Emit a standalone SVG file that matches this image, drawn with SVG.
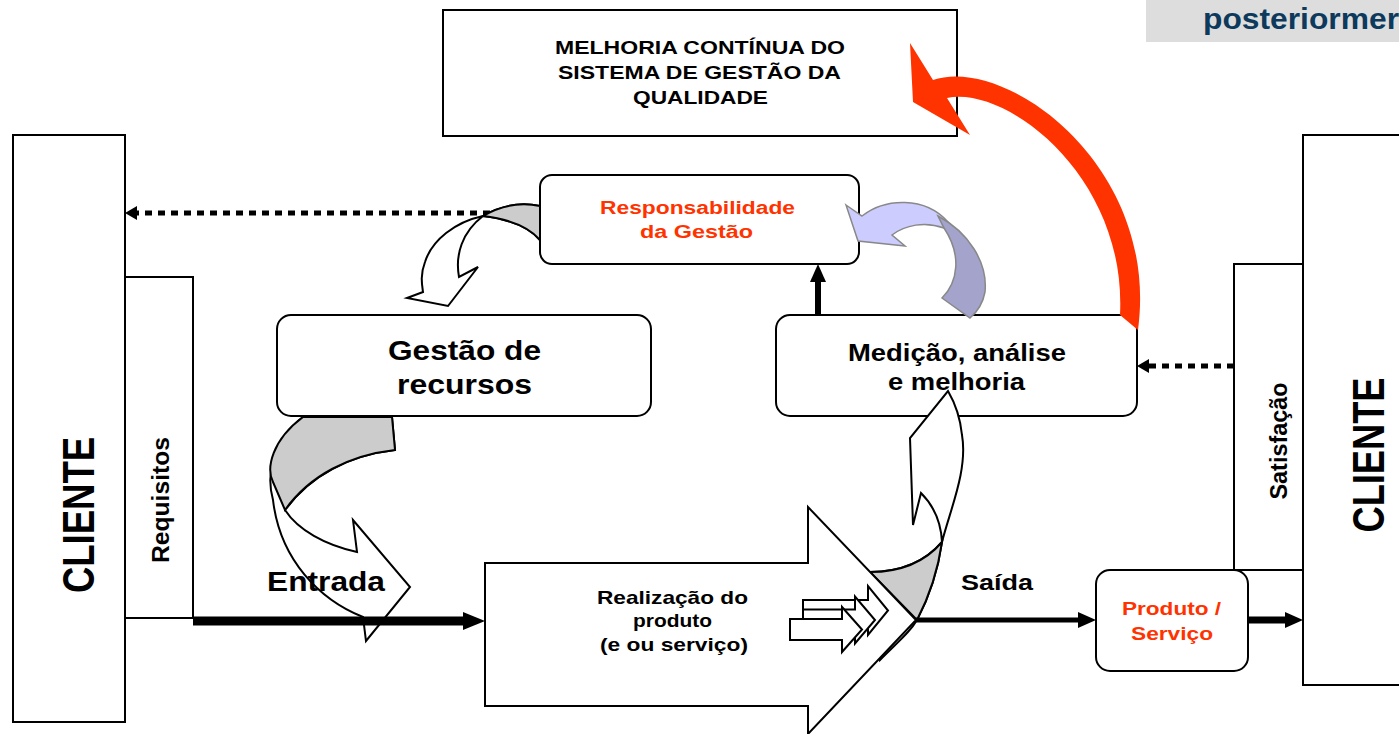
<svg xmlns="http://www.w3.org/2000/svg" width="1399" height="734" viewBox="0 0 1399 734">
<defs>
<style>
.box{fill:#fff;stroke:#000;stroke-width:2}
.t{font-family:"Liberation Sans",Arial,sans-serif;font-weight:bold;fill:#000}
.red{fill:#ff3300}
.rib{fill:#fff;stroke:#000;stroke-width:2;stroke-linejoin:miter}
.fold{fill:#cccccc;stroke:#000;stroke-width:2}
.solid{stroke:#000;fill:none}
.dot{stroke:#000;fill:none;stroke-width:5;stroke-dasharray:7 6}
</style>
<marker id="ahBig" markerUnits="userSpaceOnUse" markerWidth="22" markerHeight="18" refX="0" refY="9" orient="auto"><path d="M0,0 L22,9 L0,18 Z" fill="#000"/></marker>
<marker id="ahMid" markerUnits="userSpaceOnUse" markerWidth="18" markerHeight="16" refX="0" refY="8" orient="auto"><path d="M0,0 L18,8 L0,16 Z" fill="#000"/></marker>
<marker id="ahDot" markerUnits="userSpaceOnUse" markerWidth="12" markerHeight="14" refX="0" refY="7" orient="auto"><path d="M0,0 L12,7 L0,14 Z" fill="#000"/></marker>
</defs>

<g id="note-top-right">
<rect x="1146" y="0" width="253" height="42" fill="#dddddd"/>
<text class="t" x="1203" y="29" font-size="29" textLength="196" lengthAdjust="spacingAndGlyphs" style="fill:#0d3a5c">posteriormer</text>
</g>

<g id="melhoria">
<rect class="box" x="443" y="10" width="514" height="126"/>
<text class="t" x="555" y="54" font-size="19" textLength="290" lengthAdjust="spacingAndGlyphs">MELHORIA CONTÍNUA DO</text>
<text class="t" x="558" y="79" font-size="19" textLength="283" lengthAdjust="spacingAndGlyphs">SISTEMA DE GESTÃO DA</text>
<text class="t" x="633" y="104" font-size="19" textLength="135" lengthAdjust="spacingAndGlyphs">QUALIDADE</text>
</g>

<g id="cliente-left">
<rect class="box" x="13" y="135" width="112" height="587"/>
<text class="t" transform="translate(78,515) rotate(-90) scale(1,1.25)" x="0" y="13" font-size="36" text-anchor="middle" textLength="156" lengthAdjust="spacingAndGlyphs">CLIENTE</text>
</g>
<g id="requisitos">
<rect class="box" x="125" y="277" width="68" height="341"/>
<text class="t" transform="translate(161,500) rotate(-90) scale(1,1.2)" x="0" y="7" font-size="20" text-anchor="middle" textLength="126" lengthAdjust="spacingAndGlyphs">Requisitos</text>
</g>

<g id="cliente-right">
<rect class="box" x="1303" y="135" width="100" height="550"/>
<text class="t" transform="translate(1368,455) rotate(-90) scale(1,1.25)" x="0" y="13" font-size="36" text-anchor="middle" textLength="155" lengthAdjust="spacingAndGlyphs">CLIENTE</text>
</g>
<g id="satisfacao">
<rect class="box" x="1234" y="264" width="69" height="306"/>
<text class="t" transform="translate(1279,441) rotate(-90) scale(1,1.2)" x="0" y="7" font-size="20" text-anchor="middle" textLength="117" lengthAdjust="spacingAndGlyphs">Satisfação</text>
</g>

<g id="responsabilidade">
<rect class="box" x="540" y="175" width="319" height="89" rx="12"/>
<text class="t red" x="600" y="214" font-size="18" textLength="195" lengthAdjust="spacingAndGlyphs">Responsabilidade</text>
<text class="t red" x="640" y="238" font-size="18" textLength="113" lengthAdjust="spacingAndGlyphs">da Gestão</text>
</g>

<g id="gestao-recursos">
<rect class="box" x="277" y="315" width="374" height="101" rx="14"/>
<text class="t" x="388" y="360" font-size="28" textLength="153" lengthAdjust="spacingAndGlyphs">Gestão de</text>
<text class="t" x="397" y="394" font-size="28" textLength="135" lengthAdjust="spacingAndGlyphs">recursos</text>
</g>

<g id="medicao">
<rect class="box" x="776" y="315" width="361" height="101" rx="14"/>
<text class="t" x="848" y="361" font-size="23" textLength="218" lengthAdjust="spacingAndGlyphs">Medição, análise</text>
<text class="t" x="888" y="390" font-size="23" textLength="137" lengthAdjust="spacingAndGlyphs">e melhoria</text>
</g>

<g id="produto-servico">
<rect class="box" x="1096" y="570" width="152" height="101" rx="14"/>
<text class="t red" x="1122" y="615" font-size="19" textLength="99" lengthAdjust="spacingAndGlyphs">Produto /</text>
<text class="t red" x="1131" y="640" font-size="19" textLength="82" lengthAdjust="spacingAndGlyphs">Serviço</text>
</g>

<g id="connectors">
<line class="dot" x1="490" y1="213" x2="137" y2="213" marker-end="url(#ahDot)"/>
<line class="dot" x1="1234" y1="366" x2="1149" y2="366" marker-end="url(#ahDot)"/>
<line class="solid" x1="818" y1="315" x2="818" y2="282" stroke-width="6" marker-end="url(#ahMid)"/>

<path id="rib-resp-gestao" class="rib" d="M540,240 C528,226 508,219 483,216 C455,222 432,240 425,262 C420,275 422,285 423,292 L407,298 L448,306 L478,267 L459,277 C455,255 462,232 483,216 C505,203 525,203 540,206 Z"/>
<path class="fold" d="M483,216 C505,203 525,203 540,206 L540,240 C528,226 508,219 483,216 Z"/>

<path id="rib-gestao-real" class="rib" d="M303,417 C272,440 266,475 273,500 C280,560 320,600 363,617 L366,641 L410,587 L353,520 L357,552 C325,545 298,530 285,510 C310,475 350,455 395,450 L392,417 Z"/>
<path class="fold" d="M303,417 C272,440 266,468 273,482 L285,510 C310,475 350,455 395,450 L392,417 Z"/>

<path id="rib-real-med" class="rib" d="M880,660 C900,640 910,632 917,620 C930,595 938,570 942,542 C950,510 968,470 962,435 C960,415 955,403 948,391 L910,438 L913,525 L921,493 C933,505 941,522 942,542 C925,562 900,572 870,572 Z"/>
<path class="fold" d="M942,542 C925,562 900,572 870,572 L917,620 C930,595 938,570 942,542 Z"/>

<path id="big-arrow" class="rib" d="M485,563 L808,563 L808,507 L916,620 L808,734 L808,706 L485,706 Z"/>
<path class="rib" d="M803,600 H868 V586 L888,610.5 L868,635 V621 H803 Z"/>
<path class="rib" d="M803,609.5 H855 V596.5 L875,620 L855,643.5 V630.5 H803 Z"/>
<path class="rib" d="M790,619 H842 V607 L862,629.5 L842,652 V640 H790 Z"/>

<line class="solid" x1="193" y1="621" x2="463" y2="621" stroke-width="9" marker-end="url(#ahBig)"/>
<line class="solid" x1="916" y1="620" x2="1078" y2="620" stroke-width="5" marker-end="url(#ahMid)"/>
<line class="solid" x1="1248" y1="620" x2="1285" y2="620" stroke-width="7" marker-end="url(#ahMid)"/>

<path id="blue-light" d="M846,205 L862,216 C885,198 925,196 948,222 L944,228 C925,221 905,225 892,235 L905,246 L858,241 Z" fill="#ccccff" stroke="#888" stroke-width="1.5"/>
<path id="blue-dark" d="M938,216 C968,232 988,262 985,292 C983,303 977,312 970,318 L942,298 C958,282 962,255 944,228 Z" fill="#a3a3cc" stroke="#888" stroke-width="1.5"/>

<path id="red-arrow" d="M913,102 L910,43 L933,80 C1005,55 1160,165 1138,330 L1120,315 C1127,175 1005,85 947,98 L970,135 Z" fill="#ff3300"/>
</g>

<g id="labels">
<text class="t" x="267" y="591" font-size="27" textLength="118" lengthAdjust="spacingAndGlyphs">Entrada</text>
<text class="t" x="961" y="590" font-size="22" textLength="72" lengthAdjust="spacingAndGlyphs">Saída</text>
<text class="t" x="597" y="604" font-size="19" textLength="151" lengthAdjust="spacingAndGlyphs">Realização do</text>
<text class="t" x="633" y="627" font-size="19" textLength="79" lengthAdjust="spacingAndGlyphs">produto</text>
<text class="t" x="600" y="651" font-size="19" textLength="148" lengthAdjust="spacingAndGlyphs">(e ou serviço)</text>
</g>
</svg>
